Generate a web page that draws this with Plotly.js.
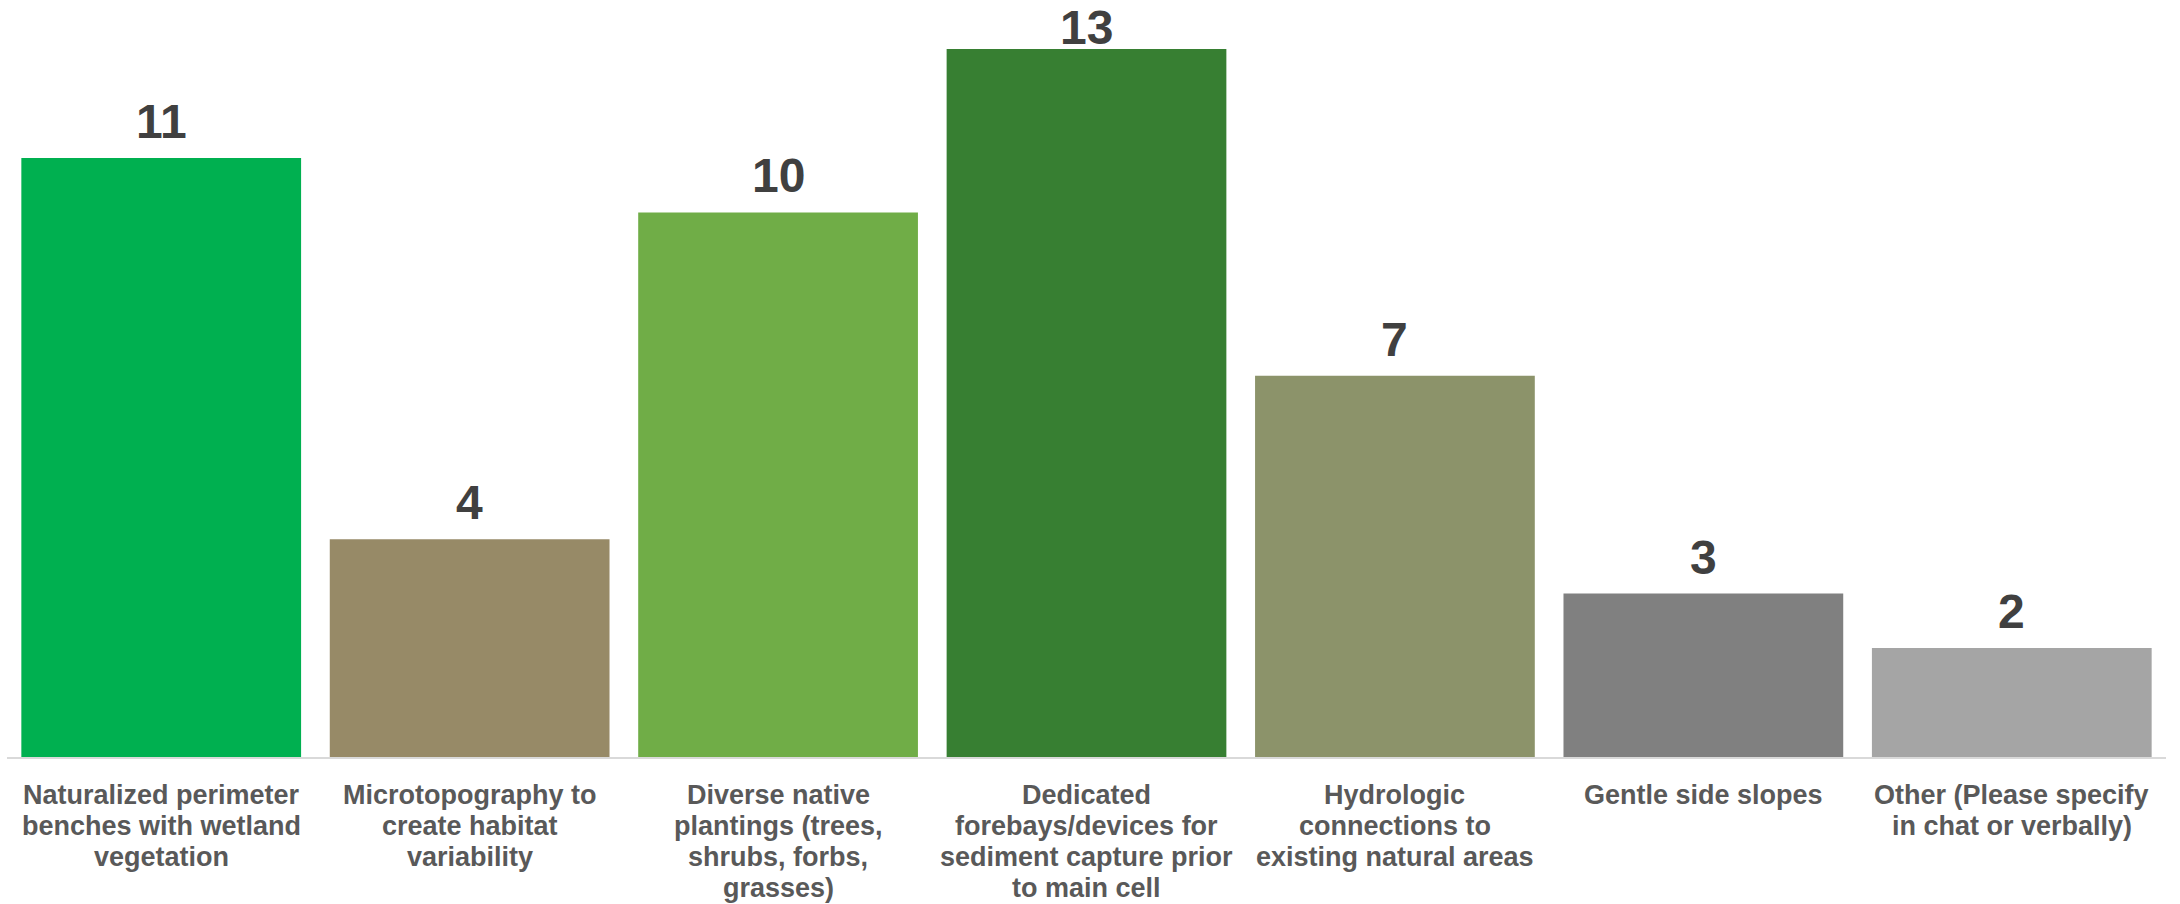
<!DOCTYPE html>
<html>
<head>
<meta charset="utf-8">
<script src="https://cdn.plot.ly/plotly-3.0.1.min.js"></script>
<style>
html,body{margin:0;padding:0;background:#fff;}
#chart{width:2180px;height:904px;}
</style>
</head>
<body>
<div id="chart"></div>
<script>
// Data
const categories = [
  "Naturalized perimeter benches with wetland vegetation",
  "Microtopography to create habitat variability",
  "Diverse native plantings (trees, shrubs, forbs, grasses)",
  "Dedicated forebays/devices for sediment capture prior to main cell",
  "Hydrologic connections to existing natural areas",
  "Gentle side slopes",
  "Other (Please specify in chat or verbally)"
];
const tickLines = [
  ["Naturalized perimeter", "benches with wetland", "vegetation"],
  ["Microtopography to", "create habitat", "variability"],
  ["Diverse native", "plantings (trees,", "shrubs, forbs,", "grasses)"],
  ["Dedicated", "forebays/devices for", "sediment capture prior", "to main cell"],
  ["Hydrologic", "connections to", "existing natural areas"],
  ["Gentle side slopes"],
  ["Other (Please specify", "in chat or verbally)"]
];
const counts = [11, 4, 10, 13, 7, 3, 2];
const barColors = ["#00B050", "#978A67", "#70AD47", "#377F32", "#8C936A", "#808080", "#A5A5A5"];

const FONT = "Liberation Sans, Arial, sans-serif";
const maxCount = Math.max(...counts);

const trace = {
  type: "bar",
  x: categories,
  y: counts,
  marker: {color: barColors},
  hoverinfo: "none"
};

const annotations = [];
// value labels (the tallest one is kept inside the chart area, as in the original)
categories.forEach((c, i) => {
  annotations.push({
    x: c, y: counts[i], xref: "x", yref: "y",
    text: "<b>" + counts[i] + "</b>",
    showarrow: false, yanchor: "bottom", xanchor: "center",
    yshift: counts[i] === maxCount ? -7 : 8,
    font: {family: FONT, size: 48, color: "#404040"}
  });
});
// category labels, line by line
categories.forEach((c, i) => {
  tickLines[i].forEach((line, j) => {
    annotations.push({
      x: c, y: 0, xref: "x", yref: "paper",
      text: "<b>" + line + "</b>",
      showarrow: false, yanchor: "top", xanchor: "center",
      yshift: -20.5 - 31.3 * j,
      font: {family: FONT, size: 27, color: "#595959"}
    });
  });
});

const layout = {
  width: 2180, height: 904,
  margin: {l: 7, r: 14, t: 0, b: 147, pad: 0},
  paper_bgcolor: "#ffffff",
  plot_bgcolor: "#ffffff",
  bargap: 0.093,
  showlegend: false,
  xaxis: {
    showticklabels: false,
    showline: true, linecolor: "#D9D9D9", linewidth: 2,
    ticks: "", showgrid: false, zeroline: false, fixedrange: true
  },
  yaxis: {
    range: [0, 13.9],
    visible: false, showgrid: false, zeroline: false, fixedrange: true
  },
  annotations: annotations
};

Plotly.newPlot("chart", [trace], layout, {displayModeBar: false, staticPlot: true});
</script>
</body>
</html>
